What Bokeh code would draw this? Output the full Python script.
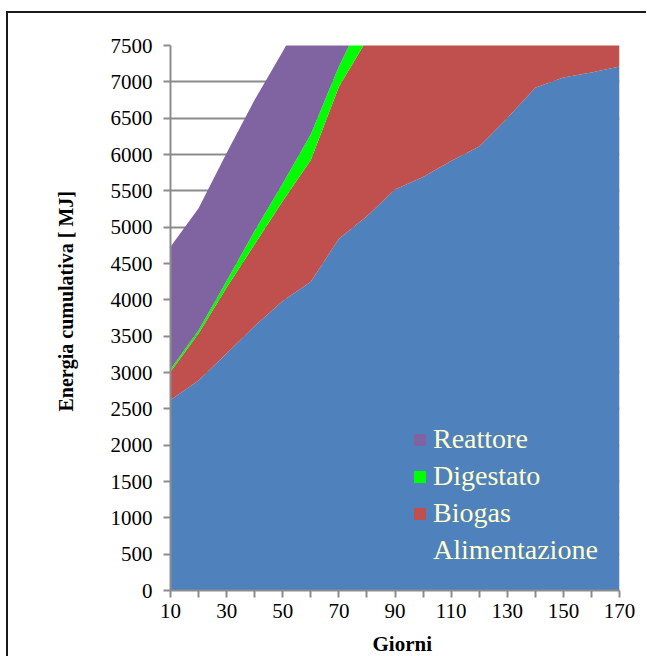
from bokeh.plotting import figure
from bokeh.models import FixedTicker, Legend, LegendItem, Range1d, ColumnDataSource, Title
from bokeh.embed import file_html
from bokeh.resources import INLINE

# Data
giorni = [10, 20, 30, 40, 50, 60, 70, 80, 90, 100, 110, 120, 130, 140, 150, 160, 170]
alimentazione = [2620, 2890, 3260, 3640, 3985, 4250, 4840, 5150, 5520, 5690, 5910, 6110, 6500, 6920, 7060, 7130, 7210]
biogas = [390, 646, 910, 1125, 1375, 1675, 2094, 2430, 2750, 3050, 3350, 3650, 3950, 4250, 4550, 4850, 5150]
digestato = [35, 45, 90, 185, 240, 355, 276, 420, 450, 480, 510, 540, 570, 600, 630, 660, 690]
reattore = [1685, 1680, 1762, 1804, 1817, 1850, 1880, 1900, 1920, 1940, 1960, 1980, 2000, 2020, 2040, 2060, 2080]

x_major = [10, 30, 50, 70, 90, 110, 130, 150, 170]
x_minor = [20, 40, 60, 80, 100, 120, 140, 160]
y_ticks = list(range(0, 7501, 500))

colors = ["#4F81BD", "#C0504D", "#00FF00", "#8064A2"]
names = ["Alimentazione", "Biogas", "Digestato", "Reattore"]

source = ColumnDataSource(dict(x=giorni, Alimentazione=alimentazione, Biogas=biogas,
                               Digestato=digestato, Reattore=reattore))

FONT = "Liberation Serif"
GRAY = "#8C8C8C"

p = figure(width=640, height=652, x_range=Range1d(10, 170), y_range=Range1d(0, 7500),
           output_backend="svg", toolbar_location=None,
           min_border_left=162, min_border_top=32, min_border_right=29, min_border_bottom=75)
p.margin = (11, 0, 0, 6)
p.styles = {"border-left": "2px solid #1a1a1a", "border-top": "2px solid #1a1a1a"}
p.outline_line_color = None
p.background_fill_color = "white"
p.border_fill_color = "white"

rs = p.varea_stack(stackers=names, x="x", color=colors, source=source)

# grid
p.xgrid.grid_line_color = None
p.ygrid.ticker = FixedTicker(ticks=y_ticks)
p.ygrid.grid_line_color = GRAY
p.ygrid.grid_line_width = 2

# axes
p.xaxis.ticker = FixedTicker(ticks=x_major, minor_ticks=x_minor)
p.yaxis.ticker = FixedTicker(ticks=y_ticks)
for ax in (p.xaxis[0], p.yaxis[0]):
    ax.axis_line_color = GRAY
    ax.axis_line_width = 2
    ax.major_tick_line_color = GRAY
    ax.major_tick_line_width = 2
    ax.minor_tick_line_color = GRAY
    ax.minor_tick_line_width = 2
    ax.major_tick_in = 0
    ax.major_tick_out = 7
    ax.minor_tick_in = 0
    ax.minor_tick_out = 7
    ax.major_label_text_font = FONT
    ax.major_label_text_font_size = "21px"
    ax.major_label_text_color = "#000000"
p.yaxis.minor_tick_out = 0
p.yaxis.major_label_standoff = 11
p.xaxis.major_label_standoff = 6

# axis titles as side titles, placed like in the reference
xtitle = Title(text="Giorni", align="left", offset=202, standoff=18,
               text_font=FONT, text_font_style="bold", text_font_size="21px",
               text_color="#000000")
ytitle = Title(text="Energia cumulativa [ MJ]", align="left", offset=179, standoff=62,
               text_font=FONT, text_font_style="bold", text_font_size="20px",
               text_color="#000000")
p.add_layout(xtitle, "below")
p.add_layout(ytitle, "left")

legend = Legend(items=[
    LegendItem(label="Reattore", renderers=[rs[3]]),
    LegendItem(label="Digestato", renderers=[rs[2]]),
    LegendItem(label="Biogas", renderers=[rs[1]]),
    LegendItem(label="Alimentazione", renderers=[rs[0]]),
], location=(242, 24))
legend.label_text_font = FONT
legend.label_text_font_size = "28px"
legend.label_text_color = "#FFFFCC"
legend.background_fill_alpha = 0
legend.border_line_color = None
legend.glyph_width = 15
legend.glyph_height = 15
legend.label_standoff = 6
legend.spacing = 5
legend.padding = 10
legend.margin = 0
p.add_layout(legend)

open("out.html", "w").write(file_html(p, INLINE))
